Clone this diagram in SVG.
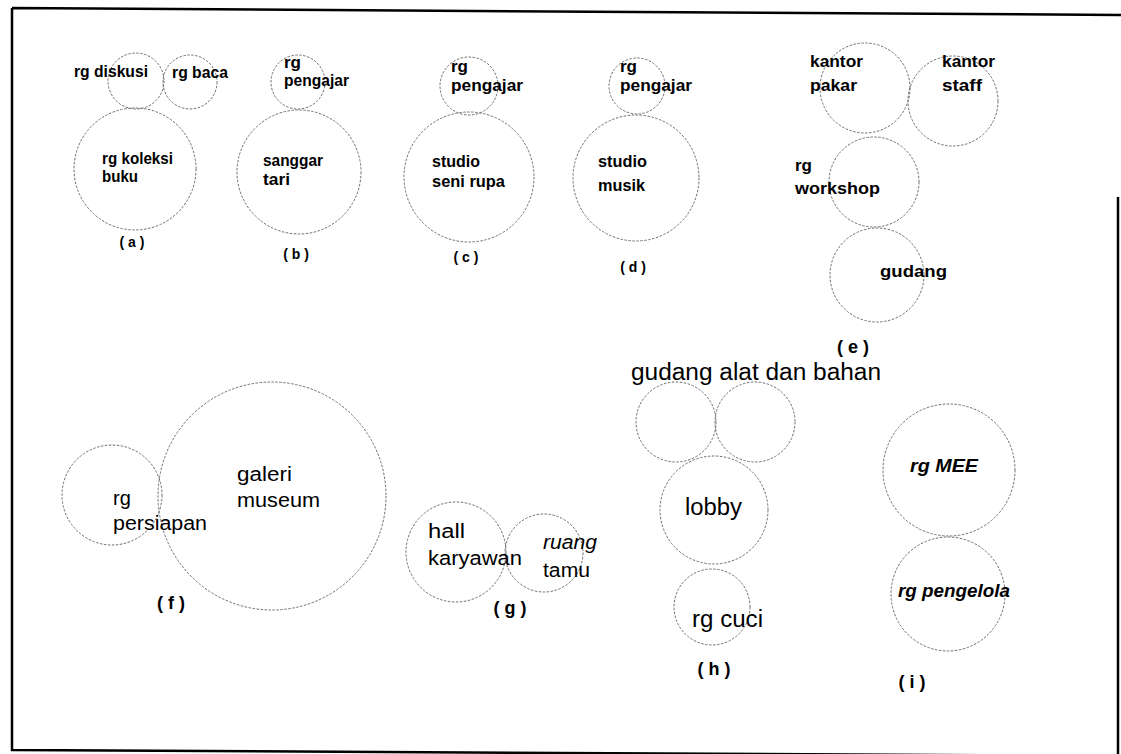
<svg xmlns="http://www.w3.org/2000/svg" width="1121" height="754" viewBox="0 0 1121 754">
<style>
.c{fill:none;stroke:#6e6e6e;stroke-width:1;stroke-dasharray:2.5 1.5}
text{font-family:"Liberation Sans",Arial,sans-serif;fill:#000}
.s{font-size:17px;font-weight:bold}
.m{font-size:20px}
.l{font-size:23px}
.i{font-style:italic;font-weight:bold;font-size:18px}
.lab{font-size:14px;font-weight:bold}
.labl{font-size:18px;font-weight:bold}
</style>
<rect width="1121" height="754" fill="#fff"/>
<path d="M12,8 L1121,15 M1118,197 L1118,754 M12,8 L12,750 L1121,756" fill="none" stroke="#000" stroke-width="2.5"/>
<g id="a">
<circle class="c" cx="136" cy="81" r="28"/>
<circle class="c" cx="190" cy="82" r="27"/>
<circle class="c" cx="135" cy="169" r="61"/>
<text class="s" x="74" y="77" textLength="74" lengthAdjust="spacingAndGlyphs">rg diskusi</text>
<text class="s" x="172" y="78" textLength="56" lengthAdjust="spacingAndGlyphs">rg baca</text>
<text class="s" x="102" y="164" textLength="71" lengthAdjust="spacingAndGlyphs">rg koleksi</text>
<text class="s" x="102" y="182" textLength="36" lengthAdjust="spacingAndGlyphs">buku</text>
<text class="lab" x="132" y="247" text-anchor="middle">( a )</text>
</g>
<g id="b">
<circle class="c" cx="298" cy="82" r="27"/>
<circle class="c" cx="299" cy="172" r="62"/>
<text class="s" x="284" y="68">rg</text>
<text class="s" x="284" y="86" textLength="65" lengthAdjust="spacingAndGlyphs">pengajar</text>
<text class="s" x="263" y="166" textLength="60" lengthAdjust="spacingAndGlyphs">sanggar</text>
<text class="s" x="263" y="185" textLength="27" lengthAdjust="spacingAndGlyphs">tari</text>
<text class="lab" x="296" y="259" text-anchor="middle">( b )</text>
</g>
<g id="c">
<circle class="c" cx="469" cy="86" r="29"/>
<circle class="c" cx="469" cy="177" r="65"/>
<text class="s" x="451" y="72">rg</text>
<text class="s" x="451" y="91" textLength="72" lengthAdjust="spacingAndGlyphs">pengajar</text>
<text class="s" x="432" y="167" textLength="48" lengthAdjust="spacingAndGlyphs">studio</text>
<text class="s" x="432" y="187" textLength="73" lengthAdjust="spacingAndGlyphs">seni rupa</text>
<text class="lab" x="466" y="262" text-anchor="middle">( c )</text>
</g>
<g id="d">
<circle class="c" cx="637" cy="86" r="28"/>
<circle class="c" cx="636" cy="178" r="63"/>
<text class="s" x="620" y="72">rg</text>
<text class="s" x="620" y="91" textLength="72" lengthAdjust="spacingAndGlyphs">pengajar</text>
<text class="s" x="598" y="167" textLength="49" lengthAdjust="spacingAndGlyphs">studio</text>
<text class="s" x="598" y="191" textLength="47" lengthAdjust="spacingAndGlyphs">musik</text>
<text class="lab" x="633" y="272" text-anchor="middle">( d )</text>
</g>
<g id="e">
<circle class="c" cx="865" cy="88" r="45"/>
<circle class="c" cx="953" cy="101" r="45"/>
<circle class="c" cx="874" cy="182" r="45"/>
<circle class="c" cx="877" cy="275" r="47"/>
<text class="s" x="810" y="67" textLength="53" lengthAdjust="spacingAndGlyphs">kantor</text>
<text class="s" x="810" y="91" textLength="47" lengthAdjust="spacingAndGlyphs">pakar</text>
<text class="s" x="942" y="67" textLength="53" lengthAdjust="spacingAndGlyphs">kantor</text>
<text class="s" x="942" y="91" textLength="40" lengthAdjust="spacingAndGlyphs">staff</text>
<text class="s" x="795" y="171">rg</text>
<text class="s" x="795" y="194" textLength="85" lengthAdjust="spacingAndGlyphs">workshop</text>
<text class="s" x="880" y="277" textLength="67" lengthAdjust="spacingAndGlyphs">gudang</text>
<text class="labl" x="853" y="353" text-anchor="middle">( e )</text>
</g>
<g id="f">
<circle class="c" cx="112" cy="495" r="50"/>
<circle class="c" cx="272" cy="496" r="114"/>
<text class="m" x="113" y="505">rg</text>
<text class="m" x="113" y="530" textLength="94" lengthAdjust="spacingAndGlyphs">persiapan</text>
<text class="m" x="237" y="481" textLength="55" lengthAdjust="spacingAndGlyphs">galeri</text>
<text class="m" x="237" y="507" textLength="83" lengthAdjust="spacingAndGlyphs">museum</text>
<text class="labl" x="171" y="609" text-anchor="middle">( f )</text>
</g>
<g id="g">
<circle class="c" cx="456" cy="552" r="50"/>
<circle class="c" cx="544" cy="553" r="39"/>
<text class="m" x="428" y="538" textLength="37" lengthAdjust="spacingAndGlyphs">hall</text>
<text class="m" x="428" y="565" textLength="94" lengthAdjust="spacingAndGlyphs">karyawan</text>
<text class="m" x="543" y="549" font-style="italic" textLength="54" lengthAdjust="spacingAndGlyphs">ruang</text>
<text class="m" x="543" y="577" textLength="47" lengthAdjust="spacingAndGlyphs">tamu</text>
<text class="labl" x="510" y="614" text-anchor="middle">( g )</text>
</g>
<g id="h">
<circle class="c" cx="676" cy="422" r="40"/>
<circle class="c" cx="755" cy="422" r="40"/>
<circle class="c" cx="714" cy="510" r="54"/>
<circle class="c" cx="712" cy="607" r="38"/>
<text class="l" x="631" y="380" textLength="250" lengthAdjust="spacingAndGlyphs">gudang alat dan bahan</text>
<text class="l" x="685" y="515" textLength="57" lengthAdjust="spacingAndGlyphs">lobby</text>
<text class="l" x="692" y="627" textLength="71" lengthAdjust="spacingAndGlyphs">rg cuci</text>
<text class="labl" x="714" y="675" text-anchor="middle">( h )</text>
</g>
<g id="i">
<circle class="c" cx="949" cy="470" r="66"/>
<circle class="c" cx="948" cy="594" r="57"/>
<text class="i" x="910" y="472" textLength="68" lengthAdjust="spacingAndGlyphs">rg MEE</text>
<text class="i" x="898" y="597" textLength="112" lengthAdjust="spacingAndGlyphs">rg pengelola</text>
<text class="labl" x="912" y="688" text-anchor="middle">( i )</text>
</g>
</svg>
